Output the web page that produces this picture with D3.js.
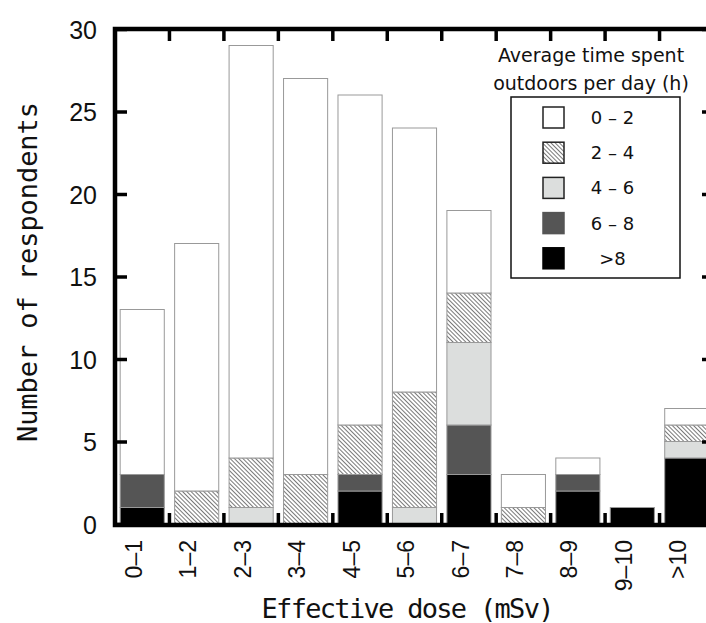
<!DOCTYPE html>
<html>
<head>
<meta charset="utf-8">
<script src="https://cdn.jsdelivr.net/npm/d3@7/dist/d3.min.js"></script>
<style>
  html, body { margin: 0; padding: 0; background: #fff; }
  svg { display: block; }
</style>
</head>
<body>
<svg id="chart" width="706" height="623"></svg>
<script>
// ---- data ----
const categories = ["0\u20131", "1\u20132", "2\u20133", "3\u20134", "4\u20135", "5\u20136", "6\u20137", "7\u20138", "8\u20139", "9\u201310", ">10"];
// stacking order: bottom to top
const seriesKeys = [">8", "6 \u2013 8", "4 \u2013 6", "2 \u2013 4", "0 \u2013 2"];
const over8  = [1, 0, 0, 0, 2, 0, 3, 0, 2, 1, 4];
const h6to8  = [2, 0, 0, 0, 1, 0, 3, 0, 1, 0, 0];
const h4to6  = [0, 0, 1, 0, 0, 1, 5, 0, 0, 0, 1];
const h2to4  = [0, 2, 3, 3, 3, 7, 3, 1, 0, 0, 1];
const h0to2  = [10, 15, 25, 24, 20, 16, 5, 2, 1, 0, 1];
const yTicks = [0, 5, 10, 15, 20, 25, 30];
const legendOrder = ["0 \u2013 2", "2 \u2013 4", "4 \u2013 6", "6 \u2013 8", ">8"];
const legendTitle = ["Average time spent", "outdoors per day (h)"];
const xTitle = "Effective dose (mSv)";
const yTitle = "Number of respondents";

// ---- build table ----
const seriesValues = {">8": over8, "6 \u2013 8": h6to8, "4 \u2013 6": h4to6, "2 \u2013 4": h2to4, "0 \u2013 2": h0to2};
const table = categories.map((c, i) => {
  const row = {cat: c};
  seriesKeys.forEach(k => row[k] = seriesValues[k][i]);
  return row;
});
const stacked = d3.stack().keys(seriesKeys)(table);

const svg = d3.select("#chart");
const pLeft = 115, pRight = 714, pTop = 29, pBottom = 525;

const defs = svg.append("defs");
const pat = defs.append("pattern")
  .attr("id", "hatch").attr("patternUnits", "userSpaceOnUse")
  .attr("width", 3).attr("height", 10)
  .attr("patternTransform", "rotate(-45)");
pat.append("rect").attr("width", 3).attr("height", 10).attr("fill", "#fff");
pat.append("line").attr("x1", 0.5).attr("y1", 0).attr("x2", 0.5).attr("y2", 10)
  .attr("stroke", "#6a6a6a").attr("stroke-width", 0.9);

const fills = {">8": "#000000", "6 \u2013 8": "#555555", "4 \u2013 6": "#dcdedd", "2 \u2013 4": "url(#hatch)", "0 \u2013 2": "#ffffff"};

const x = d3.scaleBand().domain(categories).range([pLeft, pRight]).paddingInner(0.19).paddingOuter(0.095);
const y = d3.scaleLinear().domain([0, 30]).range([pBottom - 1, pTop]);

// ---- bars ----
const g = svg.append("g");
stacked.forEach(layer => {
  g.selectAll(null).data(layer.filter(d => d[1] - d[0] > 0)).enter().append("rect")
    .attr("x", d => x(d.data.cat))
    .attr("width", x.bandwidth())
    .attr("y", d => y(d[1]))
    .attr("height", d => y(d[0]) - y(d[1]))
    .attr("fill", fills[layer.key])
    .attr("stroke", "#999")
    .attr("stroke-width", 1);
});

// ---- frame ----
svg.append("rect")
  .attr("x", pLeft).attr("y", pTop)
  .attr("width", pRight - pLeft).attr("height", pBottom - pTop)
  .attr("fill", "none").attr("stroke", "#000").attr("stroke-width", 4.5);

// ---- y axis ----
const yAxis = svg.append("g").attr("transform", `translate(${pLeft},0)`)
  .call(d3.axisLeft(y).tickValues(yTicks).tickSize(-12).tickPadding(18));
yAxis.select(".domain").remove();
yAxis.selectAll(".tick line").attr("stroke", "#000").attr("stroke-width", 3.5);
yAxis.selectAll(".tick text")
  .attr("font-family", "'Liberation Sans Narrow', 'Liberation Sans', Arial, sans-serif")
  .attr("font-size", 25).attr("fill", "#111").attr("dy", "0.36em");

// right ticks
const yAxisR = svg.append("g").attr("transform", `translate(${pRight},0)`)
  .call(d3.axisRight(y).tickValues(yTicks).tickSize(-12).tickFormat(""));
yAxisR.select(".domain").remove();
yAxisR.selectAll(".tick line").attr("stroke", "#000").attr("stroke-width", 3.5);

// ---- x axis ticks at category boundaries ----
const boundaries = categories.slice(1).map((c, i) => (x(categories[i]) + x.bandwidth() + x(c)) / 2);
svg.append("g").selectAll("line").data(boundaries).enter().append("line")
  .attr("x1", d => d).attr("x2", d => d)
  .attr("y1", pBottom).attr("y2", pBottom - 12)
  .attr("stroke", "#000").attr("stroke-width", 3.5);
svg.append("g").selectAll("line").data(boundaries).enter().append("line")
  .attr("x1", d => d).attr("x2", d => d)
  .attr("y1", pTop).attr("y2", pTop + 12)
  .attr("stroke", "#000").attr("stroke-width", 3.5);

const xAxis = svg.append("g").attr("transform", `translate(0,${pBottom})`)
  .call(d3.axisBottom(x).tickSize(0).tickPadding(0));
xAxis.select(".domain").remove();
xAxis.selectAll(".tick text")
  .attr("font-family", "'Liberation Sans Narrow', 'Liberation Sans', Arial, sans-serif")
  .attr("font-size", 23).attr("fill", "#111")
  .attr("text-anchor", "end")
  .attr("transform", "translate(0,15) rotate(-90)")
  .attr("x", 0).attr("y", 0).attr("dy", "-0.02em");

// ---- axis titles ----
svg.append("text")
  .attr("x", 408).attr("y", 618)
  .attr("text-anchor", "middle")
  .attr("font-family", "'DejaVu Sans Mono', 'Liberation Mono', monospace")
  .attr("font-size", 27).attr("fill", "#111")
  .attr("textLength", 293).attr("lengthAdjust", "spacing")
  .text(xTitle);
svg.append("text")
  .attr("transform", "translate(37,272) rotate(-90)")
  .attr("text-anchor", "middle")
  .attr("font-family", "'DejaVu Sans Mono', 'Liberation Mono', monospace")
  .attr("font-size", 27).attr("fill", "#111")
  .attr("textLength", 340).attr("lengthAdjust", "spacing")
  .text(yTitle);

// ---- legend ----
const lg = svg.append("g");
lg.selectAll("text.title").data(legendTitle).enter().append("text")
  .attr("class", "title")
  .attr("x", 591).attr("y", (d, i) => 62 + i * 28)
  .attr("text-anchor", "middle")
  .attr("font-family", "'DejaVu Sans', Verdana, sans-serif")
  .attr("font-size", 19).attr("fill", "#111")
  .text(d => d);
lg.append("rect")
  .attr("x", 511).attr("y", 97).attr("width", 169).attr("height", 181)
  .attr("fill", "#fff").attr("stroke", "#111").attr("stroke-width", 1.5);
const rows = lg.selectAll("g.row").data(legendOrder).enter().append("g")
  .attr("class", "row")
  .attr("transform", (d, i) => `translate(0,${117.5 + i * 35.2})`);
rows.append("rect")
  .attr("x", 543).attr("y", -10.5).attr("width", 21).attr("height", 21)
  .attr("fill", d => fills[d])
  .attr("stroke", d => (d === ">8" ? "#000" : d === "6 \u2013 8" ? "#555" : "#222"))
  .attr("stroke-width", 1.5);
rows.append("text")
  .attr("x", 612.5).attr("y", 0).attr("dy", "0.36em")
  .attr("text-anchor", "middle")
  .attr("font-family", "'DejaVu Sans', Verdana, sans-serif")
  .attr("font-size", 18).attr("fill", "#111")
  .text(d => d);
</script>
</body>
</html>
